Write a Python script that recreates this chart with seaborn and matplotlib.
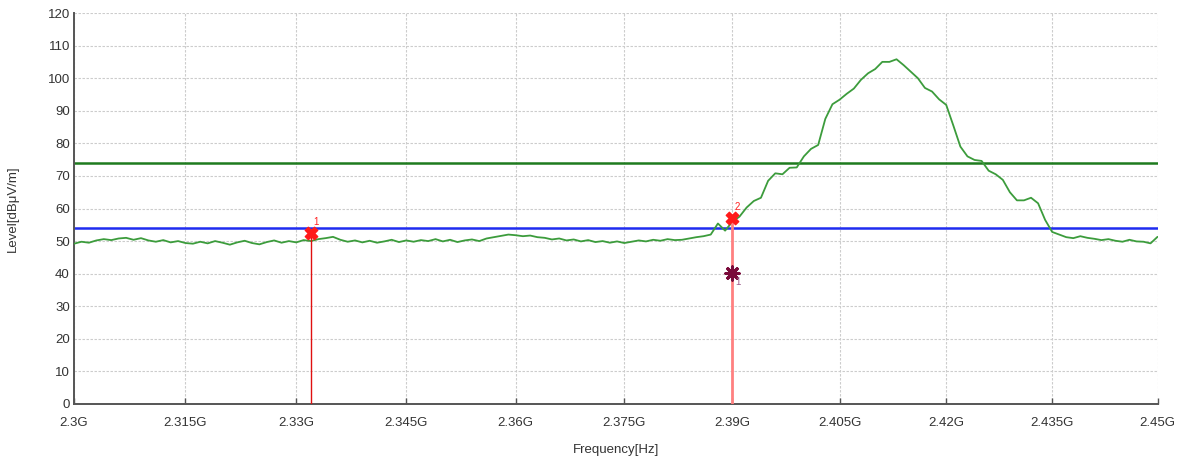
import numpy as np
import pandas as pd
import matplotlib
matplotlib.use("Agg")
import matplotlib.pyplot as plt
import seaborn as sns

# ---- data (frequency in GHz, level in dBuV/m) ----
freq_ghz = [round(2.300 + 0.001 * i, 3) for i in range(151)]
level = [
    # 2.300 - 2.315
    49.2, 49.8, 49.5, 50.2, 50.6, 50.3, 50.8, 51.0, 50.4, 50.9, 50.2, 49.8, 50.3, 49.6, 50.0, 49.4,
    # 2.316 - 2.330
    49.2, 49.8, 49.3, 50.0, 49.5, 48.9, 49.6, 50.1, 49.4, 49.0, 49.7, 50.2, 49.5, 50.0, 49.6,
    # 2.331 - 2.345
    50.3, 50.0, 50.6, 50.9, 51.3, 50.4, 49.8, 50.2, 49.6, 50.1, 49.5, 49.9, 50.4, 49.7, 50.2,
    # 2.346 - 2.360
    49.8, 50.3, 50.0, 50.6, 49.9, 50.4, 49.7, 50.2, 50.5, 50.0, 50.8, 51.2, 51.6, 52.0, 51.8,
    # 2.361 - 2.375
    51.5, 51.7, 51.2, 51.0, 50.5, 50.8, 50.2, 50.5, 49.9, 50.3, 49.7, 50.0, 49.5, 49.9, 49.4,
    # 2.376 - 2.390
    49.8, 50.2, 49.9, 50.4, 50.1, 50.6, 50.3, 50.4, 50.8, 51.2, 51.5, 52.0, 55.4, 53.2, 55.9,
    # 2.391 - 2.405
    57.5, 60.3, 62.3, 63.3, 68.5, 70.8, 70.5, 72.5, 72.6, 76.0, 78.3, 79.5, 87.5, 92.0, 93.4,
    # 2.406 - 2.420
    95.2, 96.8, 99.5, 101.5, 102.8, 105.0, 105.0, 105.8, 104.0, 102.0, 100.0, 97.0, 95.9, 93.5, 91.8,
    # 2.421 - 2.435
    85.5, 79.0, 76.0, 74.9, 74.6, 71.6, 70.5, 68.8, 65.0, 62.5, 62.5, 63.3, 61.6, 56.5, 52.8,
    # 2.436 - 2.450
    52.0, 51.2, 50.9, 51.5, 51.0, 50.7, 50.3, 50.6, 50.1, 49.8, 50.4, 49.9, 49.8, 49.3, 51.3,
]

peak_limit = 74.0
avg_limit = 54.0

marker_freq = [2.332, 2.390]
marker_level = [52.4, 57.0]
marker_names = ["1", "2"]

avg_marker_freq = [2.390]
avg_marker_level = [40.3]
avg_marker_names = ["1"]

xtick_vals = [2.3, 2.315, 2.33, 2.345, 2.36, 2.375, 2.39, 2.405, 2.42, 2.435, 2.45]
xtick_labels = ["2.3G", "2.315G", "2.33G", "2.345G", "2.36G", "2.375G", "2.39G",
                "2.405G", "2.42G", "2.435G", "2.45G"]
ytick_vals = list(range(0, 121, 10))

df = pd.DataFrame({"freq": freq_ghz, "level": level})

sns.set_theme(style="white")
plt.rcParams["font.family"] = ["Liberation Sans", "DejaVu Sans"]

fig = plt.figure(figsize=(11.81, 4.59), dpi=100)
ax = fig.add_axes([74 / 1181, 1 - 404 / 459, (1157.5 - 74) / 1181, (404 - 13) / 459])

ax.set_xscale("log")
ax.set_xlim(2.3, 2.45)
ax.set_ylim(0, 120)

# grid
ax.set_xticks(xtick_vals)
ax.set_xticklabels(xtick_labels)
ax.xaxis.set_minor_locator(matplotlib.ticker.NullLocator())
ax.set_yticks(ytick_vals)
ax.grid(True, which="major", color="#cccccc", linestyle=(0, (2.2, 1.4)), linewidth=0.8)
ax.set_axisbelow(True)

# limit lines
ax.axhline(peak_limit, color="#1e7b1e", linewidth=1.8, zorder=2)
ax.axhline(avg_limit, color="#1f2cf0", linewidth=1.8, zorder=2)

# trace
sns.lineplot(data=df, x="freq", y="level", ax=ax, color="#3c9c3c", linewidth=1.3,
             zorder=3, legend=False)

# marker verticals
ax.vlines(marker_freq[0], 0, marker_level[0], color="#e01010", linewidth=1.0, zorder=4)
ax.vlines(marker_freq[1], 0, marker_level[1], color="#ff8080", linewidth=2.0, zorder=4)

# markers
ax.scatter(marker_freq, marker_level, marker="X", s=80, color="#ff1a1a",
           edgecolors="#ff1a1a", zorder=6)
for f, v, n in zip(marker_freq, marker_level, marker_names):
    ax.annotate(n, (f, v), xytext=(2, 6), textcoords="offset points",
                color="#ff2020", fontsize=7, zorder=7)

ax.scatter(avg_marker_freq, avg_marker_level, marker=(8, 2, 0), s=90, color="#7a0a3a",
           linewidths=2.2, zorder=6)
ax.scatter(avg_marker_freq, avg_marker_level, marker="o", s=25, color="#7a0a3a", zorder=6)
for f, v, n in zip(avg_marker_freq, avg_marker_level, avg_marker_names):
    ax.annotate(n, (f, v), xytext=(2, -9), textcoords="offset points",
                color="#9a5a8a", fontsize=7, zorder=7)

# spines
for s in ["top", "right"]:
    ax.spines[s].set_visible(False)
for s in ["left", "bottom"]:
    ax.spines[s].set_color("#555555")
    ax.spines[s].set_linewidth(1.4)

ax.tick_params(axis="x", direction="in", length=4, width=1, color="#555555",
               labelsize=9.5, labelcolor="#333333", pad=9, bottom=True)
ax.tick_params(axis="y", length=0, labelsize=9.5, labelcolor="#333333", pad=3, left=True)

ax.set_xlabel("Frequency[Hz]", fontsize=9.5, color="#333333", labelpad=11)
ax.set_ylabel("Level[dB\u03bcV/m]", fontsize=9.5, color="#333333", labelpad=21)

fig.savefig("out.png", dpi=100)
